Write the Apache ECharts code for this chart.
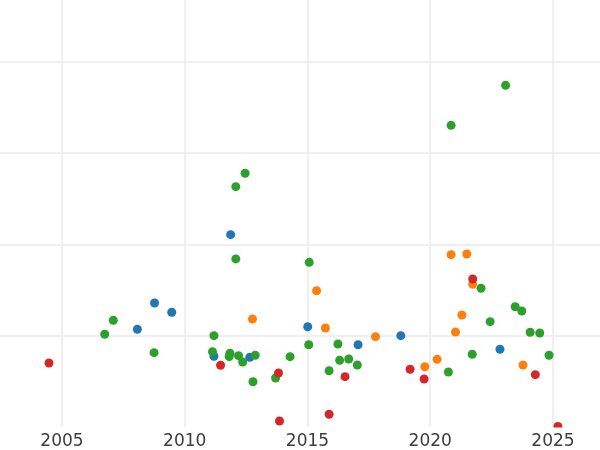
<!DOCTYPE html>
<html>
<head>
<meta charset="utf-8">
<script src="https://cdn.jsdelivr.net/npm/echarts@6/dist/echarts.min.js"></script>
<style>html,body{margin:0;padding:0;background:#fff}#chart{width:600px;height:450px}</style>
</head>
<body>
<div id="chart"></div>
<script>
// Data: [year, value]
const blueData = [[2008.07,10.70],[2008.77,13.58],[2009.47,12.56],[2011.19,7.74],[2011.87,21.06],[2012.65,7.63],[2015.01,10.98],[2017.06,9.01],[2018.80,10.00],[2022.84,8.51]];
const orangeData = [[2012.76,11.83],[2015.37,14.92],[2015.73,10.84],[2017.77,9.89],[2019.78,6.60],[2020.28,7.41],[2020.85,18.87],[2021.03,10.40],[2021.29,12.26],[2021.49,18.94],[2021.73,15.62],[2023.78,6.79]];
const greenData = [[2006.74,10.15],[2007.09,11.68],[2008.75,8.14],[2011.19,10.00],[2011.13,8.25],[2011.84,8.07],[2011.81,7.70],[2012.19,7.81],[2012.36,7.12],[2012.87,7.85],[2012.78,4.96],[2012.08,26.31],[2012.46,27.78],[2012.08,18.40],[2013.70,5.37],[2014.29,7.70],[2015.05,9.01],[2015.07,18.03],[2015.88,6.16],[2016.24,9.09],[2016.31,7.30],[2016.68,7.45],[2017.03,6.79],[2020.74,6.02],[2020.85,33.03],[2021.71,7.96],[2022.07,15.19],[2022.44,11.53],[2023.07,37.41],[2023.46,13.17],[2023.73,12.70],[2024.07,10.37],[2024.46,10.29],[2024.84,7.85]];
const redData = [[2004.47,7.01],[2011.46,6.76],[2013.82,5.91],[2013.86,0.66],[2015.88,1.39],[2016.53,5.51],[2019.18,6.32],[2019.75,5.26],[2021.73,16.20],[2024.28,5.73],[2025.20,0.05]];
const xTicks = [2005, 2010, 2015, 2020, 2025];
const yTicks = [10, 20, 30, 40];
const xRange = [2002.475, 2026.915];
const yRange = [0, 46.75];

const gridColor = '#ebebeb';
const chart = echarts.init(document.getElementById('chart'), null, {renderer: 'canvas'});
function s(data, color) {
  return {type: 'scatter', data: data, symbolSize: 9, itemStyle: {color: color, opacity: 1}, silent: true, animation: false, z: 2};
}
chart.setOption({
  animation: false,
  grid: {left: 0, right: 0, top: 0, bottom: 23, containLabel: false},
  // white band below the plot area, so marks sitting on the bottom edge are cut like in the reference
  graphic: [{type: 'rect', left: 0, top: 427.5, shape: {width: 600, height: 5.5}, style: {fill: '#fff'}, z: 100, silent: true}],
  xAxis: {
    type: 'value', min: xRange[0], max: xRange[1],
    axisLine: {show: false},
    axisTick: {show: false, customValues: xTicks},
    axisLabel: {show: true, fontSize: 17, color: '#3d3d3d', fontFamily: 'DejaVu Sans', margin: 6,
      customValues: xTicks, formatter: v => String(v)},
    splitLine: {show: true, lineStyle: {color: gridColor, width: 1.6}}
  },
  yAxis: {
    type: 'value', min: yRange[0], max: yRange[1],
    axisLine: {show: false},
    axisTick: {show: false, customValues: yTicks},
    axisLabel: {show: false, customValues: yTicks},
    splitLine: {show: true, lineStyle: {color: gridColor, width: 1.6}}
  },
  series: [
    s(blueData, '#1f77b4'),
    s(orangeData, '#ff7f0e'),
    s(greenData, '#2ca02c'),
    s(redData, '#d62728')
  ]
});
</script>
</body>
</html>
